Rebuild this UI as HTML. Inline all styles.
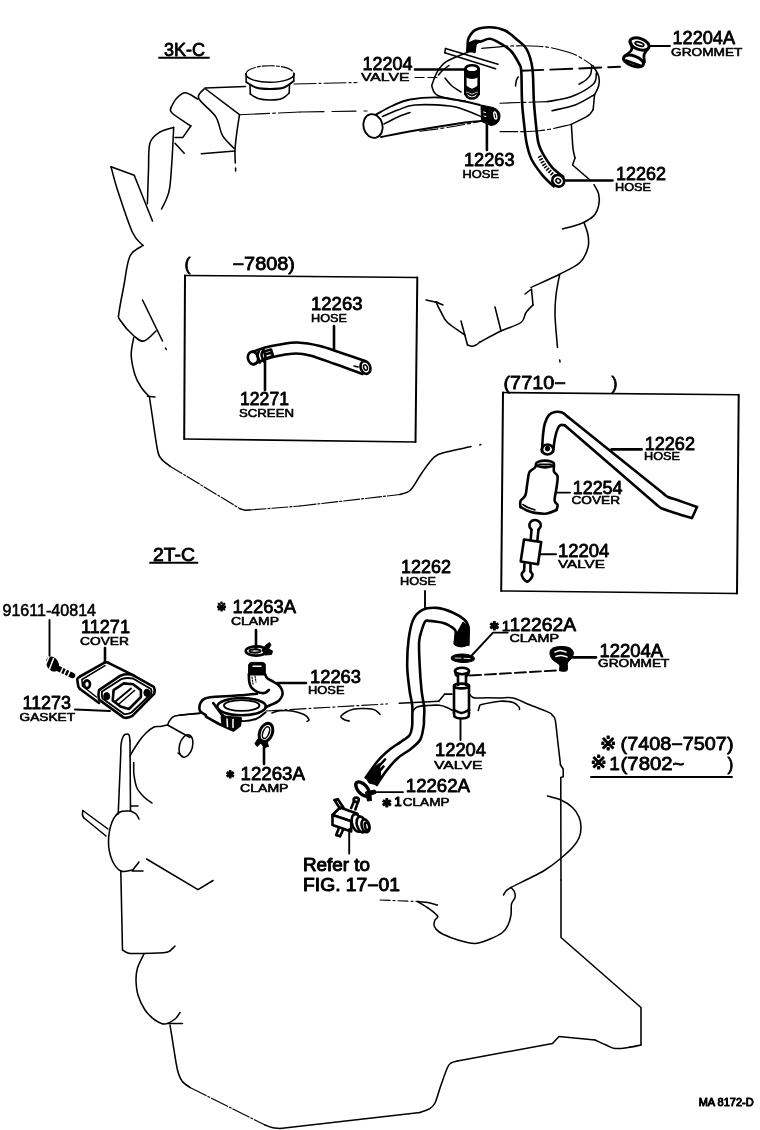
<!DOCTYPE html>
<html><head><meta charset="utf-8"><title>Ventilation hose diagram</title>
<style>
html,body{margin:0;padding:0;background:#fff;}
svg{display:block;will-change:transform}
.t{fill:none;stroke:#000;stroke-width:1.55;stroke-linecap:round;stroke-linejoin:round}
.m{fill:none;stroke:#000;stroke-width:1.9;stroke-linecap:round;stroke-linejoin:round}
.k{fill:none;stroke:#000;stroke-width:2.6;stroke-linecap:round;stroke-linejoin:round}
.f{fill:#000;stroke:#000;stroke-width:1}
.w{fill:#fff;stroke:#000;stroke-width:1.9;stroke-linejoin:round}
.wk{fill:#fff;stroke:#000;stroke-width:2.6;stroke-linejoin:round}
text{font-family:"Liberation Sans","DejaVu Sans","Noto Sans CJK JP",sans-serif;fill:#000;stroke-linejoin:round}
.n{stroke:#000;stroke-width:.8}
.s{stroke:#000;stroke-width:.55}
.b{stroke:#000;stroke-width:.95}
.x{stroke:#000;stroke-width:1.2}
</style></head><body>
<svg width="760" height="1130" viewBox="0 0 760 1130">
<rect width="760" height="1130" fill="#fff"/>
<text class="n" x="164" y="56" font-size="18" textLength="41.0" lengthAdjust="spacingAndGlyphs" >3K-C</text>
<path class="m" d="M159.0,57.8 L209.0,57.8" />
<path class="t" d="M246,74 A24,8.3 0 0 1 294,74" stroke-dasharray="12 2 3 2" style="stroke-width:1.15"/>
<path class="t" d="M246,74 A24,8.3 0 0 0 294,74" />
<path class="t" d="M246.0,74.0 L246.3,82.0" />
<path class="t" d="M294.0,74.0 L293.7,81.0" />
<path class="m" d="M246.3,82.0 C247.9,82.9 252.1,86.3 256.0,87.5 C259.9,88.7 265.3,89.0 270.0,89.0 C274.7,89.0 280.1,88.8 284.0,87.5 C287.9,86.2 292.1,82.1 293.7,81.0" />
<path class="t" d="M250.0,85.0 L250.3,94.0" />
<path class="t" d="M289.5,85.0 L289.2,93.0" />
<path class="t" d="M250.3,94.0 C251.6,94.8 254.7,97.5 258.0,98.5 C261.3,99.5 266.0,100.0 270.0,100.0 C274.0,100.0 278.8,99.7 282.0,98.5 C285.2,97.3 288.0,93.9 289.2,93.0" />
<path class="t" d="M205.0,88.0 L245.5,86.6" />
<path class="t" d="M294.0,84.0 L357.0,82.5" stroke-dasharray="22 3 2 3" style="stroke-width:1.15"/>
<path class="t" d="M239.5,114.7 L300.0,112.0" stroke-dasharray="30 3 3 3" style="stroke-width:1.15"/>
<path class="t" d="M300.0,112.0 L367.0,111.0" stroke-dasharray="24 8" style="stroke-width:1.15"/>
<path class="t" d="M205.0,88.5 L239.5,114.7" />
<path class="t" d="M204.0,89.0 C203.1,90.6 196.7,93.8 198.7,98.4 C200.7,103.0 211.9,110.6 215.8,116.8 C219.8,123.0 219.3,130.0 222.4,135.3 C225.5,140.6 232.2,146.2 234.2,148.4" />
<path class="t" d="M239.5,114.7 C239.0,118.1 237.2,129.1 236.5,135.0 C235.8,140.9 235.2,145.3 235.0,150.0 C234.8,154.7 235.2,160.8 235.3,163.0" />
<path class="t" d="M235.6,168.0 L235.6,171.0" />
<path class="t" d="M201.3,153.7 L235.0,151.0" />
<path class="t" d="M197.4,99.0 C196.2,98.2 192.3,95.5 190.0,94.5 C187.7,93.5 186.0,92.2 183.7,93.0 C181.4,93.8 178.1,96.6 176.0,99.0 C173.9,101.4 171.8,106.2 171.0,107.6" />
<path class="t" d="M171.0,107.6 C171.2,108.5 168.7,109.9 172.0,113.0 C175.3,116.1 187.7,123.8 190.8,126.0" />
<path class="t" d="M190.8,126.0 L182.9,137.4 L175.0,137.4" />
<path class="t" d="M175.0,143.2 L184.2,153.2" />
<path class="t" d="M173.7,127.4 C171.4,128.2 163.9,129.4 160.0,132.0 C156.1,134.6 151.9,136.7 150.0,143.0 C148.1,149.3 148.9,159.9 148.5,170.0 C148.1,180.1 147.6,198.1 147.4,203.7" />
<path class="t" d="M173.7,127.4 C173.4,132.8 172.7,149.9 172.0,160.0 C171.3,170.1 170.7,181.2 169.7,187.9 C168.7,194.6 167.4,196.5 166.0,200.0 C164.6,203.5 162.2,207.5 161.5,209.0" />
<path class="t" d="M111.0,166.8 L134.2,175.3 L152.5,221.0" />
<path class="t" d="M111.0,166.8 C112.1,170.7 113.9,179.1 117.5,190.0 C121.1,200.9 128.2,223.2 132.5,232.5 C136.8,241.8 141.2,243.3 143.0,245.5" />
<path class="t" d="M143.0,245.5 C140.8,247.2 133.2,249.4 130.0,256.0 C126.8,262.6 125.8,275.6 124.0,285.0 C122.2,294.4 119.7,306.7 119.0,312.5 C118.3,318.3 117.5,316.1 120.0,320.0 C122.5,323.9 130.0,332.5 134.0,336.0 C138.0,339.5 140.3,341.8 144.0,341.0 C147.7,340.2 154.0,332.7 156.0,331.0" />
<path class="t" d="M142.5,300.0 L162.5,341.0" />
<path class="t" d="M165.5,348.0 L166.3,349.5" />
<path class="t" d="M133.7,337.5 C133.3,340.4 131.0,348.8 131.2,355.0 C131.4,361.2 133.4,369.7 135.0,375.0 C136.6,380.3 138.7,383.5 141.0,387.0 C143.3,390.5 147.4,394.7 148.7,396.2" />
<path class="t" d="M147.5,396.3 L155.0,397.0" />
<path class="t" d="M149.5,397.5 C150.0,400.8 151.2,408.8 152.5,417.5 C153.8,426.2 156.1,443.1 157.5,450.0 C158.9,456.9 159.1,456.0 161.2,458.7 C163.3,461.4 168.5,464.9 170.0,466.2" />
<path class="t" d="M170.0,466.2 L240.0,508.7" stroke-dasharray="14 2 2 2" style="stroke-width:1.15"/>
<path class="t" d="M240.0,508.7 C240.8,508.9 243.3,510.0 245.0,510.2 C246.7,510.4 249.2,510.0 250.0,510.0" />
<path class="t" d="M250.0,510.0 L300.0,506.0" stroke-dasharray="16 2 2 2" style="stroke-width:1.15"/>
<path class="t" d="M300.0,506.0 L400.0,494.5" stroke-dasharray="16 2 2 2" style="stroke-width:1.15"/>
<path class="t" d="M400.0,494.5 C401.8,493.8 407.0,493.4 410.5,490.0 C414.0,486.6 417.1,479.7 421.0,474.2 C424.9,468.7 429.8,460.8 434.2,457.1 C438.6,453.4 441.3,453.6 447.4,451.8 C453.5,450.1 467.1,447.5 471.0,446.6" />
<path class="t" d="M479.8,444.9 L480.8,444.6" />
<ellipse class="m" cx="373" cy="126" rx="9.5" ry="12" transform="rotate(-15 373 126)" />
<path class="m" d="M376.0,114.5 C378.7,113.1 386.3,108.5 392.0,106.0 C397.7,103.5 402.0,100.9 410.0,99.5 C418.0,98.1 431.3,97.2 440.0,97.5 C448.7,97.8 455.3,99.8 462.0,101.0 C468.7,102.2 477.0,104.3 480.0,105.0" />
<path class="t" d="M382.5,116.5 C385.1,115.4 392.6,111.9 398.0,110.0 C403.4,108.1 406.3,105.7 415.0,105.0 C423.7,104.3 441.7,105.2 450.0,106.0 C458.3,106.8 459.7,108.2 465.0,110.0 C470.3,111.8 479.2,115.8 482.0,117.0" />
<path class="m" d="M381.0,137.0 C386.7,135.9 401.0,132.9 415.0,130.5 C429.0,128.1 454.0,124.1 465.0,122.5 C476.0,120.9 478.3,121.2 481.0,121.0" />
<path class="t" d="M384.0,124.0 C386.3,122.8 393.7,118.9 398.0,117.0 C402.3,115.1 408.0,113.2 410.0,112.5" />
<path class="f" d="M481,105 L493,107.5 Q500.5,110 500,117 Q499,125 491,125.5 L481.5,121.5Z" />
<ellipse class="t" cx="495.3" cy="115.5" rx="1.3" ry="3.6" transform="rotate(-12 495.3 115.5)" style="stroke-width:1.4;stroke:#fff"/>
<path class="t" d="M483.5,112.0 L485.5,112.5" style="stroke-width:1;stroke:#fff"/>
<path class="t" d="M484.0,116.0 L486.0,116.5" style="stroke-width:1;stroke:#fff"/>
<path class="k" d="M486.9,124.0 L486.9,150.0" />
<text class="n" x="464" y="166" font-size="18" textLength="50.5" lengthAdjust="spacingAndGlyphs" >12263</text>
<text class="s" x="462.5" y="178" font-size="11" textLength="36.5" lengthAdjust="spacingAndGlyphs" >HOSE</text>
<text class="n" x="362.5" y="69.5" font-size="18" textLength="50.0" lengthAdjust="spacingAndGlyphs" >12204</text>
<text class="s" x="361" y="81" font-size="11" textLength="48.5" lengthAdjust="spacingAndGlyphs" >VALVE</text>
<path class="k" d="M415.0,69.5 L466.0,69.5" />
<path class="t" d="M415.0,77.5 L437.0,77.5" stroke-dasharray="9 4" style="stroke-width:1.15"/>
<path class="t" d="M481.8,48.4 C486.5,48.0 500.6,46.4 510.0,46.0 C519.4,45.6 530.9,45.8 538.4,46.3 C545.9,46.8 549.1,47.2 555.3,48.7 C561.5,50.2 569.5,52.1 575.8,55.0 C582.1,57.9 590.3,64.2 593.2,66.0" stroke-dasharray="26 3 3 3" style="stroke-width:1.15"/>
<path class="t" d="M467.4,52.4 C463.9,53.9 451.4,58.3 446.3,61.6 C441.2,64.9 439.5,68.1 437.1,72.1 C434.7,76.0 432.7,83.1 431.8,85.3" />
<path class="t" d="M431.8,86.0 C432.2,87.0 432.9,90.4 434.0,92.0 C435.1,93.6 435.7,94.6 438.4,95.8 C441.1,97.0 445.6,98.1 450.0,99.0 C454.4,99.9 462.5,100.7 465.0,101.0" />
<path class="t" d="M500.0,103.2 L547.4,101.6" stroke-dasharray="20 3 3 3" style="stroke-width:1.15"/>
<path class="t" d="M547.4,101.6 C551.3,100.8 563.4,99.7 571.0,96.8 C578.6,93.9 589.0,88.1 593.2,84.2 C597.4,80.3 595.8,75.0 596.3,73.2" />
<path class="t" d="M593.2,66.0 C594.1,67.7 597.8,73.0 598.7,76.3 C599.6,79.6 599.4,82.8 598.7,85.8 C598.0,88.8 595.4,93.0 594.7,94.5" />
<path class="t" d="M591.6,65.3 C591.5,66.8 591.7,71.5 590.8,74.0 C589.9,76.5 588.0,78.3 586.0,80.0 C584.0,81.7 580.2,83.5 579.0,84.2" />
<path class="t" d="M594.7,94.5 C591.6,96.2 582.9,102.0 575.8,104.7 C568.7,107.4 556.0,109.7 552.1,110.7" />
<path class="t" d="M594.5,95.0 L593.2,109.5" />
<path class="t" d="M593.2,109.5 C592.7,110.2 591.3,112.7 590.0,114.0 C588.7,115.3 588.5,115.7 585.3,117.4 C582.1,119.2 573.4,123.3 571.0,124.5" />
<path class="t" d="M571.0,124.5 C565.8,125.5 551.3,129.6 539.5,130.8 C527.7,132.0 506.6,131.5 500.0,131.6" stroke-dasharray="18 3 3 3" style="stroke-width:1.15"/>
<path class="t" d="M420.0,131.3 C425.0,130.6 439.5,128.7 450.0,127.0 C460.5,125.3 477.5,122.0 483.0,121.0" stroke-dasharray="18 3 3 3" style="stroke-width:1.15"/>
<path class="t" d="M571.4,124.7 C571.7,128.7 572.4,142.9 573.0,148.4 C573.6,153.9 574.7,156.3 575.0,157.9" />
<path class="t" d="M575.0,157.9 L572.6,165.0 L590.0,180.0" />
<path class="t" d="M449.0,65.5 C447.8,66.4 443.8,69.4 442.0,71.0 C440.2,72.6 439.0,74.3 438.4,75.0" />
<path class="t" d="M445.0,78.0 C446.2,79.3 449.3,83.7 452.0,86.0 C454.7,88.3 459.5,91.0 461.0,92.0" />
<path class="k" d="M465.3,69.0 L465.3,94.0" />
<path class="k" d="M478.7,69.0 L478.7,94.0" />
<ellipse class="k" cx="472" cy="68.8" rx="6.7" ry="3.6" />
<path class="f" d="M465.3,70 Q472,75.5 478.7,70 L478.7,76.5 Q472,80.5 465.3,76.5Z" />
<path class="k" d="M465.3,86.5 C466.4,87.1 469.8,90.0 472.0,90.0 C474.2,90.0 477.6,87.1 478.7,86.5" />
<path class="k" d="M466.0,89.5 C467.0,90.0 470.0,92.5 472.0,92.5 C474.0,92.5 477.0,90.0 478.0,89.5" />
<path class="k" d="M465.3,94.0 C465.8,94.6 466.9,96.8 468.0,97.5 C469.1,98.2 470.7,98.5 472.0,98.5 C473.3,98.5 474.9,98.2 476.0,97.5 C477.1,96.8 478.2,94.6 478.7,94.0" />
<path class="m" d="M467.5,93.5 C468.2,93.8 470.5,95.5 472.0,95.5 C473.5,95.5 475.8,93.8 476.5,93.5" />
<path class="t" d="M445.5,48.5 L498.0,64.3" />
<path class="t" d="M444.8,52.8 L495.6,68.7" />
<path class="t" d="M445.5,48.5 L444.8,52.8" />
<path class="k" d="M467.4,52.0 C467.4,51.0 467.4,48.1 467.6,45.8 C467.8,43.4 467.4,40.5 468.7,37.9 C470.0,35.3 471.8,31.8 475.3,30.0 C478.9,28.2 485.1,27.2 490.0,27.3 C494.9,27.4 500.4,28.4 505.0,30.5 C509.6,32.6 513.8,36.8 517.4,40.0 C521.0,43.2 524.3,44.8 526.8,49.5 C529.3,54.2 531.2,59.5 532.4,68.4 C533.6,77.4 533.2,92.1 534.0,103.2 C534.8,114.3 536.3,128.0 537.1,135.0 C537.9,142.0 538.0,141.7 539.0,145.0 C540.0,148.3 541.2,151.0 543.4,154.7 C545.6,158.4 548.8,163.7 552.1,167.4 C555.4,171.1 561.4,175.2 563.2,176.8" />
<path class="k" d="M474.5,52.0 C474.8,50.6 474.8,45.3 476.0,43.5 C477.2,41.7 479.5,42.0 481.8,41.2 C484.1,40.4 487.0,38.5 490.0,38.8 C493.0,39.1 496.5,41.2 500.0,43.2 C503.5,45.2 507.8,47.6 511.0,51.0 C514.2,54.4 517.3,60.3 519.0,63.7 C520.7,67.1 520.8,65.0 521.3,71.6 C521.8,78.2 521.5,93.1 522.1,103.2 C522.7,113.3 524.2,125.0 525.0,132.0 C525.8,139.0 525.9,140.4 527.0,145.0 C528.1,149.6 529.0,154.4 531.6,159.5 C534.2,164.6 538.9,170.8 542.6,175.3 C546.3,179.8 551.9,184.5 553.7,186.3" />
<path class="t" d="M515.5,86.0 C515.7,85.0 516.0,81.5 516.5,80.0 C517.0,78.5 517.9,77.5 518.2,77.0" />
<path class="m" d="M539.5,156.0 C540.4,157.7 542.6,162.7 545.0,166.0 C547.4,169.3 552.5,174.3 554.0,176.0" stroke-dasharray="1.5 1.5" style="stroke-width:4;stroke-linecap:butt"/>
<ellipse class="wk" cx="558.2" cy="180.8" rx="6.2" ry="5.6" transform="rotate(40 558.2 180.8)" />
<ellipse class="t" cx="558.2" cy="180.8" rx="2.4" ry="2" transform="rotate(40 558.2 180.8)" />
<path class="f" d="M467.5,52 L468,43 L475,40 L480,40.5 L475.5,45 L474.5,52Z" />
<path class="k" d="M565.0,180.5 L612.5,180.5" />
<text class="n" x="616" y="180" font-size="18" textLength="50.0" lengthAdjust="spacingAndGlyphs" >12262</text>
<text class="s" x="615" y="191" font-size="11" textLength="36.0" lengthAdjust="spacingAndGlyphs" >HOSE</text>
<path class="m" d="M521.3,70.8 L620.0,66.8" stroke-dasharray="22 7"/>
<ellipse class="k" cx="639.5" cy="44" rx="10" ry="5.5" transform="rotate(20 639.5 44)" style="stroke-width:3"/>
<ellipse class="m" cx="639.5" cy="44" rx="4.5" ry="1.8" transform="rotate(20 639.5 44)" />
<path class="k" d="M631.0,43.0 C631.1,44.2 632.5,47.8 631.5,50.0 C630.5,52.2 626.1,55.0 625.0,56.0" style="stroke-width:2.8"/>
<path class="k" d="M647.5,49.0 C646.9,50.0 644.5,52.8 644.0,55.0 C643.5,57.2 644.4,60.8 644.5,62.0" style="stroke-width:2.8"/>
<ellipse class="k" cx="633.5" cy="61" rx="10.5" ry="5" transform="rotate(20 633.5 61)" style="stroke-width:3"/>
<path class="k" d="M626.0,60.5 L640.0,65.5" />
<path class="m" d="M649.0,46.0 L670.0,46.0" />
<text class="n" x="672.5" y="44" font-size="18" textLength="62.5" lengthAdjust="spacingAndGlyphs" >12204A</text>
<text class="s" x="671" y="55.5" font-size="11" textLength="71.5" lengthAdjust="spacingAndGlyphs" >GROMMET</text>
<path class="t" d="M594.0,184.7 C594.8,186.3 597.9,190.8 598.7,194.2 C599.5,197.6 599.4,201.9 598.7,205.3 C598.0,208.7 596.5,212.2 594.7,214.7 C592.9,217.1 590.5,218.4 588.0,220.0 C585.5,221.6 584.2,222.5 580.0,224.0 C575.8,225.5 565.4,228.2 562.5,229.0" />
<path class="t" d="M584.0,222.5 C584.7,224.6 587.3,230.8 588.0,235.0 C588.7,239.2 589.3,242.9 588.0,247.5 C586.7,252.1 584.7,258.1 580.0,262.5 C575.3,266.9 568.2,269.8 560.0,274.0 C551.8,278.2 535.8,285.2 531.0,287.5" />
<path class="t" d="M525.0,294.0 L531.5,289.0 L533.0,305.0" />
<path class="t" d="M533.0,305.0 C531.8,306.2 528.0,309.6 526.0,312.5 C524.0,315.4 525.2,319.4 521.0,322.5 C516.8,325.6 507.8,327.8 501.0,331.0 C494.2,334.2 483.5,340.2 480.0,342.0" />
<path class="t" d="M495.0,307.0 L501.0,331.0" />
<path class="t" d="M559.5,275.0 C558.9,278.3 556.8,288.3 556.0,295.0 C555.2,301.7 554.8,306.2 555.0,315.0 C555.2,323.8 557.1,342.1 557.5,347.5" />
<path class="t" d="M559.7,360.0 L560.0,362.0" />
<path class="t" d="M426.0,300.0 L437.5,302.5" />
<path class="t" d="M436.0,302.0 L443.0,305.0" />
<path class="t" d="M436.0,302.0 C436.8,303.7 439.1,308.6 441.0,312.0 C442.9,315.4 443.5,318.7 447.5,322.5 C451.5,326.3 462.1,332.9 465.0,335.0" />
<path class="t" d="M461.0,321.0 L467.5,345.0" />
<path class="t" d="M467.5,345.0 C468.2,345.2 470.6,346.3 472.0,346.3 C473.4,346.3 474.7,345.7 476.0,345.0 C477.3,344.3 479.3,342.5 480.0,342.0" />
<text class="n" x="184.5" y="269.5" font-size="18" >(</text>
<text class="n" x="232.5" y="269.5" font-size="18" textLength="62.5" lengthAdjust="spacingAndGlyphs" >−7808)</text>
<path class="k" d="M184.2,439.0 L185.0,275.4" style="stroke-width:2"/>
<path class="k" d="M417.3,277.6 L415.5,442.0" style="stroke-width:2"/>
<path class="t" d="M185.0,275.4 L417.3,277.6" />
<path class="t" d="M184.2,439.0 L415.5,442.0" style="stroke-width:1.7"/>
<text class="n" x="311" y="310" font-size="18" textLength="51.5" lengthAdjust="spacingAndGlyphs" >12263</text>
<text class="s" x="311" y="322" font-size="11" textLength="36.0" lengthAdjust="spacingAndGlyphs" >HOSE</text>
<path class="k" d="M334.0,326.0 L334.0,349.0" />
<path class="k" d="M252.5,352.0 C254.6,351.2 260.4,348.8 265.0,347.5 C269.6,346.2 274.6,345.3 280.0,344.5 C285.4,343.7 290.8,342.2 297.5,342.5 C304.2,342.8 312.9,344.3 320.0,346.0 C327.1,347.7 332.5,350.0 340.0,352.5 C347.5,355.0 360.8,359.6 365.0,361.0" />
<path class="k" d="M254.0,364.0 C256.0,363.2 261.7,360.4 266.0,359.0 C270.3,357.6 275.0,356.4 280.0,355.5 C285.0,354.6 291.0,353.5 296.0,353.5 C301.0,353.5 303.5,353.8 310.0,355.5 C316.5,357.2 326.2,360.9 335.0,364.0 C343.8,367.1 357.9,372.3 362.5,374.0" />
<ellipse class="k" cx="365.5" cy="367.5" rx="4.8" ry="6.5" transform="rotate(-20 365.5 367.5)" />
<ellipse class="t" cx="365.5" cy="367.5" rx="1.8" ry="2.8" transform="rotate(-20 365.5 367.5)" />
<ellipse class="k" cx="253" cy="358" rx="5" ry="6.5" transform="rotate(-15 253 358)" />
<path class="k" d="M259.0,351.0 C258.8,351.8 257.3,354.1 257.5,356.0 C257.7,357.9 259.6,361.4 260.0,362.5" />
<path class="k" d="M263.5,349.5 C263.2,350.4 261.4,353.0 261.5,355.0 C261.6,357.0 263.6,360.4 264.0,361.5" />
<path class="k" d="M264,351.5 L271,349.5 L273,356 L266,358.5Z" />
<path class="k" d="M266.0,354.0 L271.0,353.0" />
<path class="t" d="M354.0,366.0 L358.0,367.0" />
<path class="k" d="M265.0,358.0 L265.0,390.0" />
<text class="n" x="240" y="405" font-size="18" textLength="49.0" lengthAdjust="spacingAndGlyphs" >12271</text>
<text class="s" x="239" y="417" font-size="11" textLength="55.0" lengthAdjust="spacingAndGlyphs" >SCREEN</text>
<text class="n" x="503.5" y="388.5" font-size="18" textLength="62.3" lengthAdjust="spacingAndGlyphs" >(7710−</text>
<text class="n" x="611.6" y="388.5" font-size="18" >)</text>
<path class="k" d="M501.2,591.0 L503.0,392.6" style="stroke-width:2"/>
<path class="k" d="M738.7,394.8 L737.0,593.5" style="stroke-width:2"/>
<path class="t" d="M503.0,392.6 L738.7,394.8" />
<path class="t" d="M501.2,591.0 L737.0,593.5" style="stroke-width:1.5"/>
<path class="k" d="M542.0,452.0 C542.2,449.2 542.5,439.8 543.0,435.0 C543.5,430.2 544.0,426.3 545.0,423.0 C546.0,419.7 547.3,416.8 549.0,415.0 C550.7,413.2 552.8,412.4 555.0,412.0 C557.2,411.6 559.8,411.7 562.0,412.5 C564.2,413.3 567.0,416.2 568.0,417.0" />
<path class="k" d="M568.0,417.0 L664.0,494.0" />
<path class="k" d="M664.0,494.0 C664.7,494.5 665.3,495.8 668.0,497.0 C670.7,498.2 675.2,499.3 680.0,501.0 C684.8,502.7 694.2,506.0 697.0,507.0" />
<path class="k" d="M697.0,507.0 L692.0,518.0" />
<path class="k" d="M553.0,452.0 C553.3,449.7 554.2,442.0 555.0,438.0 C555.8,434.0 557.0,430.2 558.0,428.0 C559.0,425.8 559.8,425.4 561.0,425.0 C562.2,424.6 564.3,425.4 565.0,425.5" />
<path class="k" d="M565.0,425.5 L657.0,505.0" />
<path class="k" d="M657.0,505.0 C657.8,505.6 659.0,507.2 662.0,508.5 C665.0,509.8 670.0,511.4 675.0,513.0 C680.0,514.6 689.2,517.2 692.0,518.0" />
<ellipse class="k" cx="547.5" cy="449.5" rx="5.8" ry="5" />
<ellipse class="f" cx="547.5" cy="448.5" rx="2.2" ry="2.5" />
<path class="k" d="M611.6,449.4 L641.6,449.4" />
<text class="n" x="644.7" y="450" font-size="18" textLength="50.3" lengthAdjust="spacingAndGlyphs" >12262</text>
<text class="s" x="644" y="460" font-size="11" textLength="36.0" lengthAdjust="spacingAndGlyphs" >HOSE</text>
<ellipse class="k" cx="545" cy="464" rx="9" ry="3.4" />
<path class="m" d="M539.0,464.5 L551.0,464.5" />
<path class="k" d="M536.0,465.0 C535.8,465.4 535.8,466.6 535.0,467.5 C534.2,468.4 532.0,469.5 531.0,470.5 C530.0,471.5 529.5,471.1 528.9,473.5 C528.2,475.9 527.7,481.2 527.1,484.9 C526.5,488.6 526.4,492.9 525.3,495.6 C524.2,498.3 521.3,499.1 520.5,501.0 C519.7,502.9 520.5,506.0 520.5,507.0" />
<path class="k" d="M554.0,465.0 C554.0,466.1 553.4,469.8 554.0,471.7 C554.6,473.6 557.2,473.7 557.6,476.5 C558.0,479.3 556.9,484.4 556.4,488.4 C555.9,492.4 554.4,497.6 554.6,500.4 C554.8,503.2 557.3,503.6 557.6,505.2 C557.9,506.8 556.6,509.2 556.4,510.0" />
<path class="k" d="M520.5,507.0 C521.6,507.6 524.6,509.5 527.0,510.5 C529.4,511.5 531.6,512.4 534.9,512.9 C538.2,513.4 543.2,514.0 546.8,513.5 C550.4,513.0 554.8,510.6 556.4,510.0" />
<path class="t" d="M522.9,504.6 C523.8,505.1 526.0,506.6 528.0,507.5 C530.0,508.4 533.8,509.6 534.9,510.0" />
<path class="m" d="M557.0,492.6 L570.0,492.6" />
<text class="n" x="572.7" y="494" font-size="18" textLength="49.9" lengthAdjust="spacingAndGlyphs" >12254</text>
<text class="s" x="571.5" y="504" font-size="11" textLength="48.5" lengthAdjust="spacingAndGlyphs" >COVER</text>
<path class="k" d="M531.5,529.7 C531.2,529.2 529.7,527.8 529.5,526.5 C529.3,525.2 529.6,523.1 530.5,522.0 C531.4,520.9 533.5,520.0 535.0,520.0 C536.5,520.0 538.5,521.0 539.5,522.0 C540.5,523.0 541.0,524.7 540.8,526.0 C540.6,527.3 538.9,529.1 538.5,529.7" />
<path class="k" d="M531.5,529.7 L530.7,540.0" />
<path class="k" d="M538.5,529.7 L537.3,541.0" />
<path class="k" d="M524,539.5 L541.2,542 L538,564.3 L520.7,561.5Z" />
<path class="t" d="M530.7,540.0 C531.2,540.2 532.9,541.3 534.0,541.5 C535.1,541.7 536.8,541.1 537.3,541.0" />
<path class="k" d="M524.5,564.0 L524.0,571.0" />
<path class="k" d="M530.5,564.5 L530.5,571.5" />
<path class="k" d="M524.0,571.0 C523.6,571.5 521.9,572.8 521.7,574.0 C521.5,575.2 522.1,576.7 523.0,578.0 C523.9,579.3 525.7,581.5 527.0,581.6 C528.3,581.7 530.1,579.7 531.0,578.5 C531.9,577.3 532.6,575.7 532.5,574.5 C532.4,573.3 530.8,572.0 530.5,571.5" />
<path class="m" d="M540.8,554.2 L556.0,554.2" />
<text class="n" x="558" y="557.4" font-size="18" textLength="51.4" lengthAdjust="spacingAndGlyphs" >12204</text>
<text class="s" x="558" y="567.8" font-size="11" textLength="47.0" lengthAdjust="spacingAndGlyphs" >VALVE</text>
<text class="n" x="153" y="561" font-size="18" textLength="42.0" lengthAdjust="spacingAndGlyphs" >2T-C</text>
<path class="m" d="M150.0,562.8 L197.5,562.8" />
<text class="s" x="2.5" y="616" font-size="16" textLength="93.5" lengthAdjust="spacingAndGlyphs" >91611-40814</text>
<path class="m" d="M49.5,620.0 L49.5,656.0" />
<ellipse class="f" cx="52.5" cy="664" rx="5.5" ry="7.5" transform="rotate(-30 52.5 664)" />
<path class="k" d="M58.0,668.5 L72.5,675.5" style="stroke-width:5.5"/>
<path class="t" d="M49.0,657.0 L45.0,666.0" style="stroke:#fff"/>
<path class="t" d="M53.5,658.5 L49.5,669.0" style="stroke:#fff"/>
<path class="t" d="M63.0,667.5 L60.5,673.0" style="stroke:#fff"/>
<path class="t" d="M66.5,669.0 L64.0,674.5" style="stroke:#fff"/>
<path class="t" d="M70.0,671.0 L67.5,676.5" style="stroke:#fff"/>
<text class="n" x="81" y="632.5" font-size="18" textLength="49.0" lengthAdjust="spacingAndGlyphs" >11271</text>
<text class="s" x="80" y="644.5" font-size="11" textLength="49.0" lengthAdjust="spacingAndGlyphs" >COVER</text>
<path class="k" d="M105.0,648.0 L105.0,662.5" />
<path class="k" d="M104.1,662.8 C104.5,662.7 105.8,662.3 106.5,662.3 C107.2,662.3 108.1,662.7 108.4,662.8" />
<path class="k" d="M108.4,662.8 L134.0,675.7" />
<path class="k" d="M104.1,662.8 L80.0,676.5" />
<path class="k" d="M80.0,676.5 C79.6,676.8 77.9,677.6 77.5,678.5 C77.1,679.4 77.4,680.6 77.6,682.0 C77.8,683.4 78.1,685.6 78.5,686.8 C78.9,688.0 79.8,688.6 80.0,689.0" />
<path class="k" d="M80.0,689.0 L99.0,703.0" />
<path class="t" d="M82.0,679.5 L105.0,665.6" />
<path class="t" d="M82.0,680.0 L82.5,686.0 L96.4,697.0" />
<ellipse class="k" cx="87" cy="684.2" rx="3" ry="3.8" />
<path class="k" d="M99,690.2 L120.4,675.7 Q126,673.5 132.4,674.8 L153.8,686.8 Q155.5,690 154.3,693.6 L132.4,715.9 Q128,718.5 123.8,717.6 L99,699.6 Q97.8,695 99,690.2Z" />
<path class="m" d="M102,691.5 L121.5,679 Q127,677.3 133,678.5 L151,689 Q152,691.5 151,694 L131.5,712.5 Q128,714.5 124,714 L102.5,698.5 Q101.3,695 102,691.5Z" />
<path class="k" d="M113.6,690.2 L123.8,683.4 L133.2,684.2 L140.9,690.2 L140.9,697 L129,709 L120.4,706.4 L112.7,700.5Z" />
<path class="m" d="M116.0,701.0 L131.0,688.5" />
<path class="t" d="M119.5,703.5 L134.5,690.5" />
<ellipse class="f" cx="106.7" cy="696.2" rx="3" ry="3.6" />
<ellipse class="f" cx="146.9" cy="692.8" rx="3" ry="3.6" />
<text class="n" x="22.5" y="709" font-size="18" textLength="48.5" lengthAdjust="spacingAndGlyphs" >11273</text>
<text class="s" x="19.5" y="720.5" font-size="11" textLength="55.5" lengthAdjust="spacingAndGlyphs" >GASKET</text>
<path class="m" d="M75.0,709.5 L110.0,711.0" />
<text class="x" x="216.5" y="610.5" font-size="12" >※</text>
<text class="n" x="232.5" y="613" font-size="18" textLength="63.5" lengthAdjust="spacingAndGlyphs" >12263A</text>
<text class="s" x="231" y="625" font-size="11" textLength="48.0" lengthAdjust="spacingAndGlyphs" >CLAMP</text>
<path class="k" d="M256.0,630.0 L256.0,649.0" />
<ellipse class="k" cx="256.2" cy="651" rx="10.5" ry="4.6" />
<ellipse class="m" cx="255" cy="651" rx="5.5" ry="1.8" />
<path class="f" d="M262,650 L266,645 L269.5,642.5 L271,645 L268.5,649 L272.5,651 L271.5,654.5 L265,655Z" />
<path class="f" d="M248.6,675 L248.6,665 Q249,662.4 252,662.4 L262,662.4 Q265.3,662.4 265.3,665 L265.3,675Z" />
<path class="t" d="M253.0,666.2 L261.0,666.2" style="stroke:#fff"/>
<path class="k" d="M248.8,674.0 C248.9,675.3 248.9,679.8 249.3,682.0 C249.7,684.2 250.0,685.5 251.0,687.0 C252.0,688.5 253.6,689.7 255.1,690.7 C256.6,691.7 258.3,692.4 260.0,692.8 C261.7,693.1 263.8,693.3 265.3,692.8 C266.8,692.3 268.3,690.5 268.9,690.0" />
<path class="k" d="M265.3,674.7 C265.6,675.2 266.1,677.0 267.0,678.0 C267.9,679.0 269.1,679.4 271.0,680.5 C272.9,681.6 276.6,683.5 278.3,684.9 C280.1,686.3 280.8,687.5 281.5,689.0 C282.2,690.5 282.7,692.1 282.6,693.6 C282.5,695.1 282.0,696.6 281.0,698.0 C280.0,699.4 279.4,700.7 276.8,702.2 C274.2,703.8 267.2,706.4 265.3,707.3" />
<path class="k" d="M257.0,693.8 C255.0,694.0 248.9,694.7 245.0,695.0 C241.1,695.3 239.2,695.3 233.4,695.7 C227.6,696.1 215.2,696.7 210.3,697.2 C205.4,697.8 205.6,698.2 204.0,699.0 C202.4,699.8 201.7,701.0 200.9,702.2 C200.2,703.5 199.6,705.0 199.5,706.5 C199.4,708.0 199.0,709.4 200.1,710.9 C201.2,712.4 204.9,714.6 205.9,715.3" />
<path class="t" d="M252.0,677.0 L253.0,684.0" stroke-dasharray="1.5 1.5" style="stroke-width:1.15"/>
<path class="t" d="M255.0,676.0 L256.0,682.0" stroke-dasharray="1.5 1.5" style="stroke-width:1.15"/>
<ellipse class="k" cx="241.6" cy="706.6" rx="24.3" ry="8.6" />
<ellipse class="m" cx="241.7" cy="705.5" rx="17.7" ry="5.4" />
<path class="m" d="M218.5,709.0 C219.4,710.2 220.3,714.0 224.0,716.0 C227.7,718.0 235.4,720.5 240.7,721.0 C246.0,721.5 251.9,720.4 256.0,719.0 C260.1,717.6 263.9,713.5 265.5,712.4" />
<path class="k" d="M213.2,703 L223.3,716.7 L240.7,718.2 L239.9,725.4 L233.4,730.5 L219,724 L205.9,716.7" />
<path class="f" d="M221,716.5 L240.7,718.2 L239.9,725.4 L233.4,730.5 L222,725.5Z" />
<path class="t" d="M227.0,719.0 L227.5,726.5" style="stroke:#fff"/>
<path class="t" d="M233.0,719.5 L233.0,727.5" style="stroke:#fff"/>
<path class="k" d="M277.5,683.0 L306.0,683.0" />
<text class="n" x="310" y="682.5" font-size="18" textLength="51.0" lengthAdjust="spacingAndGlyphs" >12263</text>
<text class="s" x="308" y="694" font-size="11" textLength="36.5" lengthAdjust="spacingAndGlyphs" >HOSE</text>
<ellipse class="k" cx="266" cy="732.6" rx="6.3" ry="9.6" transform="rotate(22 266 732.6)" style="stroke-width:3"/>
<ellipse class="t" cx="266" cy="732.6" rx="3" ry="6.2" transform="rotate(22 266 732.6)" />
<path class="f" d="M258,738.5 L255,743.5 L257,746.5 L261,743 L264,747.5 L268.5,746.5 L267,741.5Z" />
<path class="k" d="M264.0,747.5 L264.0,764.0" />
<text class="x" x="226" y="777.5" font-size="10" >✱</text>
<text class="n" x="240.5" y="780" font-size="18" textLength="64.5" lengthAdjust="spacingAndGlyphs" >12263A</text>
<text class="s" x="240" y="792" font-size="11" textLength="48.5" lengthAdjust="spacingAndGlyphs" >CLAMP</text>
<text class="n" x="401" y="573" font-size="18" textLength="50.0" lengthAdjust="spacingAndGlyphs" >12262</text>
<text class="s" x="400" y="585" font-size="11" textLength="36.0" lengthAdjust="spacingAndGlyphs" >HOSE</text>
<path class="m" d="M425.0,591.0 L425.0,607.5" />
<path class="k" d="M468.4,644.7 C468.4,643.1 468.6,638.1 468.6,635.0 C468.6,631.9 469.1,628.8 468.4,626.3 C467.7,623.8 467.1,622.0 464.5,619.7 C461.9,617.4 457.2,614.5 452.6,612.5 C448.0,610.5 441.8,608.3 436.8,607.9 C431.8,607.5 426.3,607.9 422.4,609.9 C418.5,611.9 415.5,614.8 413.2,619.7 C410.9,624.6 409.6,631.8 408.6,639.5 C407.6,647.2 407.1,657.4 407.2,665.8 C407.3,674.2 408.7,683.5 409.5,690.0 C410.3,696.5 411.7,700.3 412.2,705.0 C412.7,709.7 412.3,714.5 412.3,718.0 C412.3,721.5 412.5,723.5 412.1,726.3 C411.7,729.1 411.6,732.3 409.7,734.9 C407.8,737.5 403.8,739.7 400.5,742.1 C397.2,744.5 393.7,746.2 390.0,749.3 C386.3,752.4 382.2,755.8 378.2,760.5 C374.1,765.2 367.8,774.8 365.7,777.6" />
<path class="k" d="M454.6,643.4 C454.8,642.2 455.4,638.2 455.5,636.0 C455.6,633.8 456.2,632.0 455.3,630.3 C454.4,628.6 452.0,627.2 450.0,626.0 C448.0,624.8 445.9,623.8 443.4,623.0 C440.9,622.2 437.6,621.9 435.0,621.5 C432.4,621.1 428.8,620.9 427.6,620.8" />
<path class="k" d="M427.6,620.8 C427.2,620.9 426.0,620.0 425.0,621.7 C424.0,623.4 422.5,627.6 421.5,631.0 C420.5,634.4 419.4,636.3 419.1,642.1 C418.8,647.9 419.3,657.8 419.7,665.8 C420.1,673.8 420.8,683.0 421.5,690.0 C422.2,697.0 423.8,703.2 424.2,707.9 C424.6,712.6 424.1,714.9 424.0,718.0 C423.9,721.1 424.2,722.7 423.6,726.3 C423.0,729.9 422.4,735.8 420.3,739.5 C418.2,743.2 414.8,745.6 411.1,748.7 C407.4,751.8 402.1,754.2 397.9,757.9 C393.7,761.6 389.6,766.6 386.1,771.1 C382.6,775.6 378.4,782.6 376.8,784.9" />
<path class="f" d="M454.6,637 L458,631 L463,622 L468.4,626 L468.4,644.7 Q461.5,649 454.6,645Z" />
<path class="f" d="M365.7,777.6 L369,783 L376.8,784.9 L381,778 L379.5,763.5 L372,769Z" />
<path class="k" d="M375.0,770.5 L385.0,759.5" />
<path class="k" d="M378.0,773.0 L383.5,766.5" />
<ellipse class="f" cx="462.8" cy="658.3" rx="11.6" ry="4.3" transform="rotate(2 462.8 658.3)" />
<path class="t" d="M455.0,658.0 L461.0,658.2" style="stroke-width:0.9;stroke:#fff"/>
<path class="t" d="M464.0,658.3 L470.0,658.6" style="stroke-width:0.9;stroke:#fff"/>
<path class="m" d="M471.7,655.5 L493.0,632.6 L507.6,632.6" />
<text class="x" x="489.5" y="630" font-size="11.5" >✱</text>
<text class="n" x="501.8" y="631" font-size="15.5" >1</text>
<text class="n" x="509.5" y="631" font-size="18" textLength="66.5" lengthAdjust="spacingAndGlyphs" >12262A</text>
<text class="s" x="509.5" y="642" font-size="11" textLength="49.5" lengthAdjust="spacingAndGlyphs" >CLAMP</text>
<path class="f" d="M550.0,654.0 C549.8,652.1 550.2,649.8 552.0,648.5 C553.8,647.2 558.0,646.6 561.0,646.5 C564.0,646.4 567.9,646.9 570.0,648.0 C572.1,649.1 573.2,651.2 573.4,653.0 C573.6,654.8 572.0,657.3 571.0,659.0 C570.0,660.7 568.2,661.1 567.5,663.0 C566.8,664.9 568.2,669.2 567.0,670.5 C565.8,671.8 561.2,671.4 560.0,670.5 C558.8,669.6 560.7,666.8 559.5,665.0 C558.3,663.2 554.6,661.8 553.0,660.0 C551.4,658.2 550.2,655.9 550.0,654.0Z" />
<path class="t" d="M555.0,652.0 C555.8,651.8 558.2,650.5 560.0,650.5 C561.8,650.5 565.0,651.8 566.0,652.0" style="stroke:#fff"/>
<path class="t" d="M556.0,656.5 C556.8,656.3 559.2,655.4 561.0,655.5 C562.8,655.6 566.0,656.8 567.0,657.0" style="stroke:#fff"/>
<path class="k" d="M573.0,657.4 L596.0,657.4" />
<text class="n" x="599.5" y="656.5" font-size="18" textLength="63.5" lengthAdjust="spacingAndGlyphs" >12204A</text>
<text class="s" x="598" y="666.5" font-size="11" textLength="71.5" lengthAdjust="spacingAndGlyphs" >GROMMET</text>
<path class="m" d="M470.0,675.5 L564.2,670.0" stroke-dasharray="11 4"/>
<ellipse class="k" cx="462" cy="671" rx="7" ry="3.2" />
<path class="k" d="M455.0,671.0 C455.2,671.7 455.5,674.2 456.0,675.0 C456.5,675.8 457.7,675.8 458.0,676.0" />
<path class="k" d="M469.0,671.0 C468.8,671.7 468.5,674.2 468.0,675.0 C467.5,675.8 466.3,675.8 466.0,676.0" />
<path class="k" d="M458.0,676.0 L458.0,685.0" />
<path class="k" d="M466.0,676.0 L466.0,685.0" />
<ellipse class="k" cx="461.5" cy="686" rx="7.5" ry="2.4" />
<path class="k" d="M454.0,686.0 L454.0,710.0" />
<path class="k" d="M469.0,686.0 L469.0,710.0" />
<path class="k" d="M454.0,710.0 C455.2,710.5 459.0,713.0 461.5,713.0 C464.0,713.0 467.8,710.5 469.0,710.0" />
<path class="k" d="M454.0,713.0 C454.2,713.7 453.8,716.1 455.0,717.0 C456.2,717.9 459.3,718.5 461.5,718.5 C463.7,718.5 466.8,717.9 468.0,717.0 C469.2,716.1 468.8,713.7 469.0,713.0" />
<path class="k" d="M454.0,710.0 L454.0,713.0" />
<path class="k" d="M469.0,710.0 L469.0,713.0" />
<path class="m" d="M460.5,719.0 L460.5,740.0" />
<text class="n" x="435" y="756" font-size="18" textLength="51.0" lengthAdjust="spacingAndGlyphs" >12204</text>
<text class="s" x="434" y="769" font-size="11" textLength="48.5" lengthAdjust="spacingAndGlyphs" >VALVE</text>
<ellipse class="k" cx="362.5" cy="789" rx="8.6" ry="4.6" transform="rotate(48 362.5 789)" style="stroke-width:3.4"/>
<path class="f" d="M365.5,792 L367.5,801 L371.5,800.5 L371,795 L376,793.2 L375,790Z" />
<path class="m" d="M371.6,792.1 L403.0,792.1" />
<text class="n" x="405.8" y="792" font-size="18" textLength="64.2" lengthAdjust="spacingAndGlyphs" >12262A</text>
<text class="x" x="382" y="806.5" font-size="11.5" >✱</text>
<text class="x" x="394.2" y="806.3" font-size="13.5" >1</text>
<text class="s" x="402.8" y="806" font-size="11" textLength="46.7" lengthAdjust="spacingAndGlyphs" >CLAMP</text>
<path class="wk" d="M332.5,815 L340,807.5 L357.5,813.7 L351.2,821.2Z" />
<path class="wk" d="M332.5,815 L351.2,821.2 L351.2,831.5 L332.5,825Z" />
<ellipse class="wk" cx="357" cy="823" rx="5" ry="9" transform="rotate(-15 357 823)" />
<ellipse class="wk" cx="361.5" cy="824.5" rx="4.6" ry="8" transform="rotate(-15 361.5 824.5)" />
<ellipse class="wk" cx="365.5" cy="825.8" rx="3.8" ry="6.6" transform="rotate(-15 365.5 825.8)" />
<ellipse class="k" cx="367" cy="826.3" rx="2" ry="3.8" transform="rotate(-15 367 826.3)" />
<path class="k" d="M334.5,800.0 L340.0,808.7" />
<path class="k" d="M337.8,799.3 L343.7,808.0" />
<path class="k" d="M334.5,800.0 L337.8,799.3" />
<path class="k" d="M351.2,808.0 L354.3,800.5" />
<path class="k" d="M355.3,809.5 L358.0,802.0" />
<ellipse class="k" cx="356.2" cy="799.8" rx="2.6" ry="2.2" />
<path class="k" d="M338.7,828.5 L336.2,835.0" />
<path class="k" d="M336.2,835.0 L340.0,836.2" />
<path class="k" d="M340.0,836.2 L343.0,830.0" />
<path class="m" d="M349.2,829.0 L349.2,853.5" />
<text class="b" x="303" y="870.5" font-size="17.5" textLength="67.0" lengthAdjust="spacingAndGlyphs" >Refer to</text>
<text class="b" x="303" y="890.5" font-size="17.5" textLength="97.0" lengthAdjust="spacingAndGlyphs" >FIG. 17−01</text>
<text class="x" x="600" y="750" font-size="19.5" >※</text>
<text class="n" x="620.6" y="750" font-size="17.5" textLength="112.9" lengthAdjust="spacingAndGlyphs" >(7408−7507)</text>
<text class="x" x="590.4" y="769.3" font-size="19.5" >※</text>
<text class="n" x="609.3" y="769.7" font-size="19" >1</text>
<text class="n" x="620.6" y="769.5" font-size="17.5" textLength="63.9" lengthAdjust="spacingAndGlyphs" >(7802~</text>
<text class="n" x="727.5" y="769.5" font-size="17.5" >)</text>
<path class="m" d="M591.0,777.0 L732.0,777.0" />
<text class="b" x="698.7" y="1105.5" font-size="11" textLength="54.9" lengthAdjust="spacingAndGlyphs" >MA 8172-D</text>
<path class="t" d="M200.0,713.0 C198.3,713.2 194.2,713.5 190.0,714.0 C185.8,714.5 178.3,715.0 175.0,716.0 C171.7,717.0 171.2,718.5 170.0,720.0 C168.8,721.5 167.9,724.2 167.5,725.0" />
<path class="t" d="M167.5,725.0 C166.2,725.2 162.2,726.2 160.0,726.5 C157.8,726.8 156.3,725.9 154.0,727.0 C151.7,728.1 148.3,730.8 146.0,733.0 C143.7,735.2 142.0,737.3 140.0,740.0 C138.0,742.7 135.7,746.3 134.0,749.0 C132.3,751.7 130.7,754.8 130.0,756.0" />
<path class="t" d="M167.5,725.0 L190.0,737.5" />
<ellipse class="t" cx="186" cy="746" rx="6.5" ry="11.5" transform="rotate(15 186 746)" />
<path class="t" d="M178.0,753.0 L182.0,756.0" />
<path class="t" d="M133.7,762.6 C133.8,764.7 133.4,770.8 134.0,775.0 C134.6,779.2 135.3,784.3 137.0,788.0 C138.7,791.7 141.5,794.5 144.0,797.0 C146.5,799.5 150.7,802.0 152.0,803.0" />
<path class="t" d="M118.2,814.0 C118.6,805.0 120.0,771.5 120.5,760.0 C121.0,748.5 120.7,748.7 121.0,745.0 C121.3,741.3 121.8,739.8 122.5,738.0 C123.2,736.2 123.9,735.0 125.0,734.5 C126.1,734.0 128.2,733.9 129.0,735.0 C129.8,736.1 129.8,740.0 130.0,741.0" />
<path class="t" d="M130.0,741.0 L130.5,810.5" />
<path class="t" d="M130.5,811.0 C128.8,811.2 123.1,810.2 120.0,812.0 C116.9,813.8 113.9,817.0 112.0,822.0 C110.1,827.0 108.5,835.7 108.5,842.0 C108.5,848.3 110.0,855.2 112.0,860.0 C114.0,864.8 117.5,869.3 120.8,871.0 C124.1,872.7 130.1,870.2 132.0,870.0" />
<path class="t" d="M130.5,811.0 C131.4,811.5 134.6,812.7 136.0,814.0 C137.4,815.3 138.5,818.2 139.0,819.0" />
<path class="t" d="M131.0,806.0 L138.0,806.0" />
<path class="t" d="M108.0,829.0 L82.8,810.5" />
<path class="t" d="M82.8,810.5 C82.8,811.2 82.3,813.8 82.5,815.0 C82.7,816.2 83.8,817.5 84.0,818.0" />
<path class="t" d="M84.0,818.0 L106.0,836.0" />
<path class="t" d="M146.6,859.0 L198.0,889.7 L213.0,880.5" />
<path class="t" d="M139.0,862.0 L132.0,871.0 L143.0,871.0" />
<path class="t" d="M120.8,871.0 L122.5,950.0" />
<path class="t" d="M122.5,950.0 C123.4,950.5 125.9,952.4 128.0,953.0 C130.1,953.6 128.8,953.6 135.0,953.5 C141.2,953.4 158.8,953.2 165.0,952.5 C171.2,951.8 170.3,950.1 172.0,949.0 C173.7,947.9 174.5,946.5 175.0,946.0" />
<path class="t" d="M144.0,954.0 C142.9,956.3 138.8,963.7 137.5,968.0 C136.2,972.3 135.9,975.5 136.0,980.0 C136.1,984.5 136.5,990.0 138.0,995.0 C139.5,1000.0 142.2,1005.8 145.0,1010.0 C147.8,1014.2 151.7,1017.7 155.0,1020.0 C158.3,1022.3 161.7,1024.2 165.0,1024.0 C168.3,1023.8 172.5,1020.9 175.0,1019.0 C177.5,1017.1 179.2,1013.6 180.0,1012.5" />
<path class="t" d="M167.5,1023.5 L182.5,1023.5" />
<path class="t" d="M170.0,1025.0 C170.7,1029.2 172.8,1042.5 174.0,1050.0 C175.2,1057.5 176.2,1064.8 177.5,1070.0 C178.8,1075.2 179.9,1078.1 182.0,1081.0 C184.1,1083.9 188.7,1086.4 190.0,1087.5" />
<path class="t" d="M190.0,1087.5 L265.0,1125.0" stroke-dasharray="18 2 2 2" style="stroke-width:1.15"/>
<path class="t" d="M265.0,1125.0 C266.2,1125.4 269.5,1126.9 272.0,1127.5 C274.5,1128.1 278.7,1128.3 280.0,1128.5" />
<path class="t" d="M280.0,1128.5 L420.0,1112.5" />
<path class="t" d="M420.0,1112.5 C421.5,1111.9 426.5,1110.6 429.0,1109.0 C431.5,1107.4 433.0,1107.0 435.0,1103.0 C437.0,1099.0 438.9,1090.9 441.0,1085.0 C443.1,1079.1 445.8,1071.2 447.5,1067.5 C449.2,1063.8 449.3,1064.1 451.0,1063.0 C452.7,1061.9 456.4,1061.3 457.5,1061.0" />
<path class="t" d="M457.5,1061.0 L552.5,1043.5 L559.0,1036.5 L595.0,1040.0" />
<path class="t" d="M595.0,1040.0 C596.8,1040.8 602.7,1043.6 606.0,1045.0 C609.3,1046.4 611.3,1048.1 615.0,1048.5 C618.7,1048.9 623.7,1048.1 628.0,1047.5 C632.3,1046.9 638.8,1045.4 641.0,1045.0" />
<path class="t" d="M641.0,1045.0 L641.0,1007.5 L561.0,937.5 L561.0,880.0" />
<path class="t" d="M560.5,765.0 L563.2,769.0 L563.2,776.8 L560.8,777.5 L560.8,800.5 L561.0,880.0" />
<path class="t" d="M468.4,692.1 C468.8,692.8 469.9,695.0 471.0,696.0 C472.1,697.0 472.3,697.7 475.0,698.0 C477.7,698.3 482.8,697.8 487.0,697.8 C491.2,697.8 495.6,697.9 500.0,697.9 C504.4,697.9 508.4,696.8 513.2,697.9 C518.0,699.0 523.1,702.1 529.0,704.5 C534.9,706.9 544.8,710.6 548.7,712.4 C552.6,714.2 551.4,714.2 552.5,715.5 C553.6,716.8 554.4,715.8 555.3,720.3 C556.2,724.8 557.0,735.1 557.9,742.6 C558.8,750.1 560.1,761.3 560.5,765.0" />
<path class="t" d="M399.2,703.3 L438.8,701.3" />
<path class="t" d="M438.8,701.3 L444.7,694.1 L452.0,694.1" />
<path class="t" d="M266.0,711.0 L387.4,703.9" stroke-dasharray="16 3 2 3" style="stroke-width:1.15"/>
<path class="t" d="M180.0,715.0 L200.0,713.5" />
<path class="t" d="M272.0,713.0 C273.3,712.6 276.7,711.1 280.0,710.8 C283.3,710.5 288.0,710.4 292.0,711.0 C296.0,711.6 301.2,713.1 304.0,714.5 C306.8,715.9 308.5,718.3 309.0,719.5 C309.5,720.7 307.3,721.2 307.0,721.5" />
<path class="t" d="M380.1,714.5 C378.9,713.6 377.4,710.1 372.9,709.2 C368.4,708.3 358.5,708.1 353.2,709.2 C347.9,710.3 342.8,714.1 341.3,715.8 C339.8,717.5 342.7,718.6 344.0,719.5 C345.3,720.4 348.3,720.8 349.2,721.0" />
<path class="t" d="M412.5,711.8 C413.2,711.0 414.4,708.0 417.0,707.0 C419.6,706.0 424.2,705.8 428.0,705.5 C431.8,705.2 436.3,705.0 439.5,705.3 C442.7,705.6 444.8,706.6 447.0,707.5 C449.2,708.4 451.7,710.0 452.6,710.5" />
<path class="t" d="M478.3,710.5 C478.5,709.8 478.9,707.5 479.5,706.5 C480.1,705.5 478.2,705.5 481.6,704.6 C485.0,703.7 494.7,701.6 500.0,701.2 C505.3,700.9 510.0,701.5 513.2,702.5 C516.4,703.5 518.0,705.9 519.0,707.1 C520.0,708.3 519.3,709.1 519.4,709.5" />
<path class="t" d="M547.5,796.0 C549.8,796.7 556.8,798.1 561.0,800.0 C565.2,801.9 569.5,804.7 572.5,807.5 C575.5,810.3 577.6,813.7 579.0,817.0 C580.4,820.3 581.0,824.0 581.0,827.5 C581.0,831.0 580.4,834.7 579.0,838.0 C577.6,841.3 575.7,844.0 572.5,847.5 C569.3,851.0 564.6,855.2 560.0,859.0 C555.4,862.8 550.3,866.7 545.0,870.0 C539.7,873.3 533.7,876.1 528.0,879.0 C522.3,881.9 514.7,885.5 511.0,887.5 C507.3,889.5 507.2,889.8 506.0,891.0 C504.8,892.2 503.9,894.3 503.5,895.0" />
<path class="t" d="M511.0,887.5 C511.6,888.2 513.8,890.3 514.5,892.0 C515.2,893.7 515.5,895.5 515.0,897.5 C514.5,899.5 512.2,901.1 511.5,904.0 C510.8,906.9 511.6,911.5 511.0,915.0 C510.4,918.5 509.4,922.1 508.0,925.0 C506.6,927.9 505.5,930.2 502.5,932.5 C499.5,934.8 494.6,937.2 490.0,939.0 C485.4,940.8 480.3,943.3 475.0,943.5 C469.7,943.7 463.4,941.6 458.0,940.0 C452.6,938.4 446.2,935.8 442.5,934.0 C438.8,932.2 437.4,930.5 436.0,929.0 C434.6,927.5 434.2,926.5 434.0,925.0 C433.8,923.5 434.4,921.5 435.0,920.0 C435.6,918.5 438.7,918.0 437.5,916.0 C436.3,914.0 431.3,910.4 428.0,908.0 C424.7,905.6 419.2,902.6 417.5,901.5" />
<path class="t" d="M417.5,901.5 C419.2,901.7 424.7,901.9 428.0,902.5 C431.3,903.1 435.9,904.6 437.5,905.0" />
<path class="t" d="M380.0,900.0 L417.5,901.5" stroke-dasharray="10 3 2 3" style="stroke-width:1.15"/>
</svg>
</body></html>
